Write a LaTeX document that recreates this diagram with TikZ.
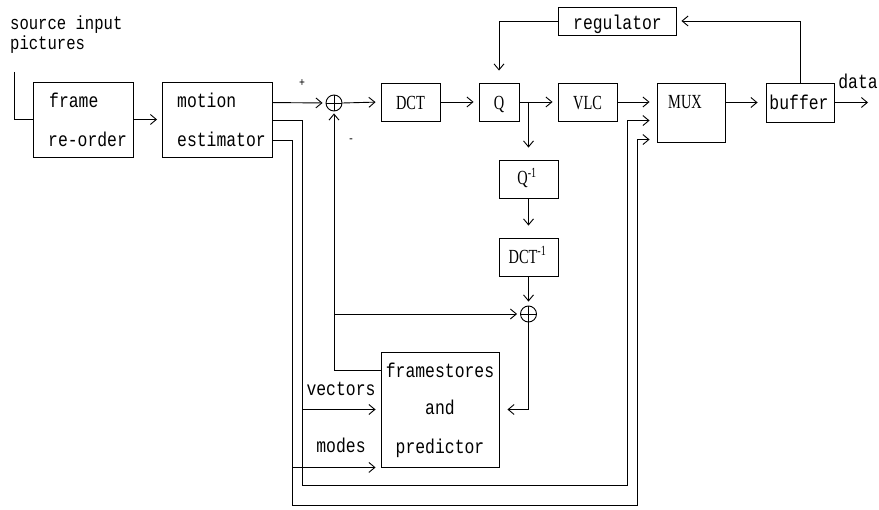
\documentclass[tikz,border=0pt]{standalone}
\usepackage{fontspec}
\usetikzlibrary{arrows.meta,calc}
\newfontfamily\monofnt[FakeStretch=0.82]{Liberation Mono}
\newfontfamily\romfnt[FakeStretch=0.72]{Liberation Serif}

\tikzset{
  box/.style 2 args={draw, line width=0.9pt, minimum width=#1, minimum height=#2, inner sep=0pt},
  lbl/.style={font=\monofnt\fontsize{20}{24}\selectfont, inner sep=0pt, anchor=base},
  srclbl/.style={font=\monofnt\fontsize{19}{22}\selectfont, inner sep=0pt, anchor=base west},
  rlbl/.style={font=\romfnt\fontsize{20}{24}\selectfont, inner sep=0pt, anchor=base},
  sign/.style={font=\monofnt\fontsize{12}{14}\selectfont, inner sep=0pt},
  wire/.style={line width=0.9pt},
  arr/.style={wire, -{Straight Barb[length=6pt,width=10pt]}, shorten >=5pt},
  arrv/.style={arr, shorten >=12pt},
  sumnode/.style={draw, circle, minimum size=16pt, inner sep=0pt, line width=0.9pt},
}

\begin{document}
\begin{tikzpicture}[x=1pt, y=-1pt]
\useasboundingbox (0,0) rectangle (879,510);

% blocks
\node[box={100pt}{75pt}] (fr) at (83,119.5) {};
\node[box={110pt}{75pt}] (me) at (217.5,119.5) {};
\node[box={59pt}{38pt}] (dct) at (410.5,102) {};
\node[box={40pt}{38pt}] (q) at (499,102) {};
\node[box={59pt}{38pt}] (vlc) at (587.5,102) {};
\node[box={68pt}{59pt}] (mux) at (691,112.5) {};
\node[box={68pt}{39pt}] (buf) at (800,102.5) {};
\node[box={118pt}{28pt}] (reg) at (617,21) {};
\node[box={59pt}{38pt}] (qi) at (528.5,179) {};
\node[box={59pt}{38pt}] (dcti) at (528.5,257) {};
\node[box={118pt}{115pt}] (fs) at (440,409.5) {};

% summing junctions
\node[sumnode] (s1) at (334,103) {};
\node[sumnode] (s2) at (528.5,314) {};
\draw[wire] (s1.north) -- (s1.south) (s1.west) -- (s1.east);
\draw[wire] (s2.north) -- (s2.south) (s2.west) -- (s2.east);

% texts
\node[srclbl] (src1) at (10,30) {source input};
\node[srclbl] (src2) at (10,50) {pictures};
\node[lbl, anchor=base west] (frT1) at (49,108) {frame};
\node[lbl, anchor=base west] (frT2) at (48,147) {re-order};
\node[lbl, anchor=base west] (meT1) at (177,108) {motion};
\node[lbl, anchor=base west] (meT2) at (177,147) {estimator};
\node[rlbl] (dctT) at (410.5,110) {DCT};
\node[rlbl] (qT) at (499,110) {Q};
\node[rlbl] (vlcT) at (587.5,109.5) {VLC};
\node[rlbl] (muxT) at (685,108.5) {MUX};
\node[lbl] (bufT) at (799,109.5) {buffer};
\node[lbl] (regT) at (617.5,30) {regulator};
\node[lbl] (dataT) at (858,89) {data};
\node[rlbl] (qiT) at (527,185) {Q\textsuperscript{-1}};
\node[rlbl] (dctiT) at (527.5,263.5) {DCT\textsuperscript{-1}};
\node[lbl] (fsT1) at (440,378) {framestores};
\node[lbl] (fsT2) at (440,415) {and};
\node[lbl] (fsT3) at (440,454) {predictor};
\node[lbl] (vecT) at (341,396) {vectors};
\node[lbl] (modT) at (341,453) {modes};
\node[sign] (plusT) at (302,83) {+};
\node[sign] (minusT) at (351,141) {-};

% connection points
\coordinate (inTop) at (14,72);
\coordinate (meA) at ($(me.north east)+(0,21)$);
\coordinate (meB) at ($(me.north east)+(0,39)$);
\coordinate (meC) at ($(me.north east)+(0,59)$);
\coordinate (muxB) at ($(mux.north west)+(0,38)$);
\coordinate (muxC) at ($(mux.north west)+(0,57)$);
\coordinate (busB) at (302,485);
\coordinate (riseB) at (627,485);
\coordinate (busC) at (292,505);
\coordinate (riseC) at (637,505);
\coordinate (fsOut) at ($(fs.north west)+(0,19)$);
\coordinate (dataEnd) at (868,102.5);

% forward path
\draw[wire] (inTop) |- (fr.west);
\draw[arr] (fr.east) -- (me.west);
\draw[arr, shorten >=3pt] (meA) -- (s1.west);
\draw[arr] (s1.east) -- (dct.west);
\draw[arr] (dct.east) -- (q.west);
\draw[arr] (q.east) -- (vlc.west);
\draw[arr, shorten >=7pt] (vlc.east) -- (vlc.east -| mux.west);
\draw[arr, shorten >=8pt] (mux.east |- buf.west) -- (buf.west);
\draw[arr, shorten >=0pt] (buf.east) -- (dataEnd);

% rate control
\draw[arr] (buf.north) |- (reg.east);
\draw[arrv] (reg.west) -| (q.north);

% local decoding loop
\draw[arrv] (q.east -| qi.north) -- (qi.north);
\draw[arrv] (qi.south) -- (dcti.north);
\draw[arr, shorten >=4pt] (dcti.south) -- (s2.north);
\draw[arr, shorten >=8pt] (s2.south) |- (fs.east);
\draw[arr, shorten >=2pt] (fsOut) -| (s1.south);
\draw[arr, shorten >=3pt] (s1.south |- s2.west) -- (s2.west);

% side information to predictor and multiplexer
\draw[arr, shorten >=7pt] (meB) -| (busB) -- (riseB) |- (muxB);
\draw[arr, shorten >=7pt] (meC) -| (busC) -- (riseC) |- (muxC);
\draw[arr] (busB |- fs.west) -- (fs.west);
\draw[arr] (busC |- fs.south west) -- (fs.south west);
\end{tikzpicture}
\end{document}
